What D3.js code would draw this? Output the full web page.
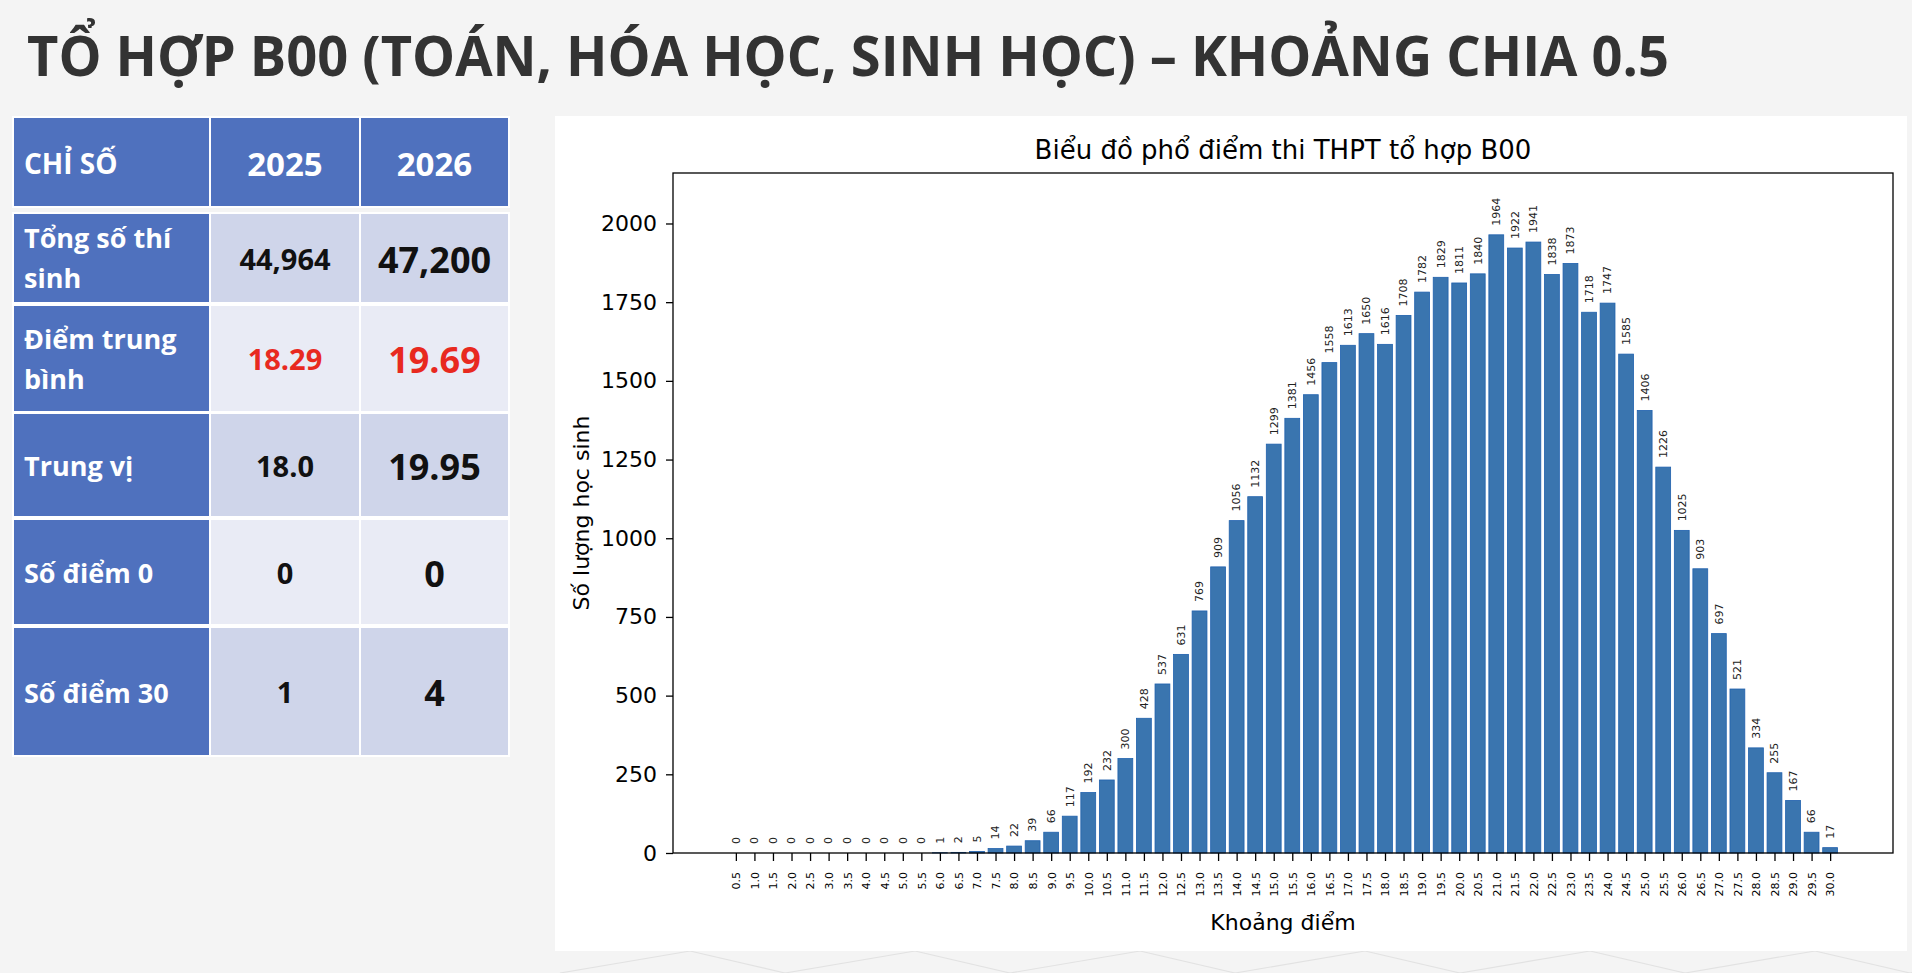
<!doctype html>
<html>

<head>
    <meta charset="utf-8">
    <title>Tổ hợp B00</title>
    <style>
        body { margin: 0; background: #f4f4f4; }
        svg { display: block; }
    </style>
</head>

<body>
    <script src="https://d3js.org/d3.v7.min.js"></script>
    <script>
        // Chart data
        var categories = ["0.5", "1.0", "1.5", "2.0", "2.5", "3.0", "3.5", "4.0", "4.5", "5.0",
            "5.5", "6.0", "6.5", "7.0", "7.5", "8.0", "8.5", "9.0", "9.5", "10.0",
            "10.5", "11.0", "11.5", "12.0", "12.5", "13.0", "13.5", "14.0", "14.5", "15.0",
            "15.5", "16.0", "16.5", "17.0", "17.5", "18.0", "18.5", "19.0", "19.5", "20.0",
            "20.5", "21.0", "21.5", "22.0", "22.5", "23.0", "23.5", "24.0", "24.5", "25.0",
            "25.5", "26.0", "26.5", "27.0", "27.5", "28.0", "28.5", "29.0", "29.5", "30.0"];
        var counts = [0, 0, 0, 0, 0, 0, 0, 0, 0, 0,
            0, 1, 2, 5, 14, 22, 39, 66, 117, 192,
            232, 300, 428, 537, 631, 769, 909, 1056, 1132, 1299,
            1381, 1456, 1558, 1613, 1650, 1616, 1708, 1782, 1829, 1811,
            1840, 1964, 1922, 1941, 1838, 1873, 1718, 1747, 1585, 1406,
            1226, 1025, 903, 697, 521, 334, 255, 167, 66, 17];
        var yTicks = [0, 250, 500, 750, 1000, 1250, 1500, 1750, 2000];

        // Table data
        var headerCells = ["CHỈ SỐ", "2025", "2026"];
        var rowLabels = [["Tổng số thí", "sinh"], ["Điểm trung", "bình"], ["Trung vị"], ["Số điểm 0"], ["Số điểm 30"]];
        var values2025 = ["44,964", "18.29", "18.0", "0", "1"];
        var values2026 = ["47,200", "19.69", "19.95", "0", "4"];
        var highlightRow = 1;

        var w = 1912;
        var h = 973;

        var svg = d3.select("body")
            .append("svg")
            .attr("width", w)
            .attr("height", h);

        svg.append("rect")
            .attr("width", w)
            .attr("height", h)
            .attr("fill", "#f4f4f4");

        // faint background lines at the bottom
        var deco = svg.append("g").attr("stroke", "#e2e2e2").attr("stroke-width", 1.2);
        d3.range(0, 7).forEach(function (k) {
            var x0 = 560 + k * 225;
            deco.append("line").attr("x1", x0).attr("y1", 973).attr("x2", x0 + 130).attr("y2", 951);
            deco.append("line").attr("x1", x0 + 130).attr("y1", 951).attr("x2", x0 + 225).attr("y2", 973);
        });

        // Slide title
        svg.append("text")
            .attr("x", 27)
            .attr("y", 76)
            .attr("textLength", 1642)
            .attr("lengthAdjust", "spacingAndGlyphs")
            .style("font-family", "'Open Sans', sans-serif")
            .style("font-weight", 700)
            .style("font-size", "56px")
            .style("fill", "#333333")
            .text("TỔ HỢP B00 (TOÁN, HÓA HỌC, SINH HỌC) – KHOẢNG CHIA 0.5");

        // ---------- Table ----------
        var colX = [13, 210, 360, 509];
        var rowTop = [117, 213, 305, 413, 519, 627];
        var rowBot = [207, 303, 412, 517, 625, 756];
        var table = svg.append("g").style("font-family", "'Open Sans', sans-serif").style("font-weight", 700);

        // header
        headerCells.forEach(function (t, c) {
            table.append("rect")
                .attr("x", colX[c]).attr("y", rowTop[0])
                .attr("width", colX[c + 1] - colX[c]).attr("height", rowBot[0] - rowTop[0])
                .attr("fill", "#4f71be").attr("stroke", "#ffffff").attr("stroke-width", 2);
            table.append("text")
                .attr("x", c == 0 ? colX[0] + 11 : (colX[c] + colX[c + 1]) / 2)
                .attr("y", c == 0 ? 174 : 176)
                .attr("text-anchor", c == 0 ? "start" : "middle")
                .style("font-size", c == 0 ? "28px" : "33px")
                .style("fill", "#ffffff")
                .text(t);
        });

        rowLabels.forEach(function (lines, i) {
            var rt = rowTop[i + 1], rb = rowBot[i + 1];
            var mid = (rt + rb) / 2;
            var light = i % 2 == 1;
            table.append("rect")
                .attr("x", colX[0]).attr("y", rt)
                .attr("width", colX[1] - colX[0]).attr("height", rb - rt)
                .attr("fill", "#4f71be").attr("stroke", "#ffffff").attr("stroke-width", 2);
            [1, 2].forEach(function (c) {
                table.append("rect")
                    .attr("x", colX[c]).attr("y", rt)
                    .attr("width", colX[c + 1] - colX[c]).attr("height", rb - rt)
                    .attr("fill", light ? "#e9ebf5" : "#cfd5ea").attr("stroke", "#ffffff").attr("stroke-width", 2);
            });
            lines.forEach(function (ln, j) {
                var ly = lines.length == 1 ? mid + 11 : mid - 10 + j * 40;
                table.append("text")
                    .attr("x", colX[0] + 11)
                    .attr("y", ly)
                    .style("font-size", "27px")
                    .style("fill", "#ffffff")
                    .text(ln);
            });
            var col = i == highlightRow ? "#e8291f" : "#111111";
            table.append("text")
                .attr("x", (colX[1] + colX[2]) / 2)
                .attr("y", mid + 11.5)
                .attr("text-anchor", "middle")
                .style("font-size", "29px")
                .style("fill", col)
                .text(values2025[i]);
            table.append("text")
                .attr("x", (colX[2] + colX[3]) / 2)
                .attr("y", mid + 14.5)
                .attr("text-anchor", "middle")
                .style("font-size", "36px")
                .style("fill", col)
                .text(values2026[i]);
        });

        // ---------- Chart ----------
        svg.append("rect")
            .attr("x", 555).attr("y", 116)
            .attr("width", 1352).attr("height", 835)
            .attr("fill", "#ffffff");

        var plotLeft = 673, plotRight = 1893, plotTop = 173, plotBottom = 853;
        var n = counts.length;
        var barW = 0.8;
        var pad = 0.05 * (n - 1 + barW);

        var x = d3.scaleLinear()
            .domain([-barW / 2 - pad, n - 1 + barW / 2 + pad])
            .range([plotLeft, plotRight]);
        var y = d3.scaleLinear()
            .domain([0, d3.max(counts) * 1.1])
            .range([plotBottom, plotTop]);

        var chart = svg.append("g").style("font-family", "'DejaVu Sans', sans-serif");

        chart.selectAll("rect.bar")
            .data(counts)
            .enter()
            .append("rect")
            .attr("class", "bar")
            .attr("x", function (d, i) { return x(i - barW / 2); })
            .attr("width", x(barW) - x(0))
            .attr("y", function (d) { return y(d); })
            .attr("height", function (d) { return y(0) - y(d); })
            .style("fill", "#3a75af")
            .style("stroke", "#1f60ad")
            .style("stroke-width", 0.8);

        // bar value labels
        chart.selectAll("text.val")
            .data(counts)
            .enter()
            .append("text")
            .attr("class", "val")
            .attr("transform", function (d, i) { return "translate(" + x(i) + "," + (y(d) - 9) + ") rotate(-90)"; })
            .attr("dy", "0.35em")
            .style("font-size", "11px")
            .style("fill", "#222222")
            .text(function (d) { return d; });

        // axes
        var xAxis = chart.append("g")
            .attr("transform", "translate(0," + plotBottom + ")")
            .call(d3.axisBottom(x)
                .tickValues(d3.range(n))
                .tickFormat(function (i) { return categories[i]; })
                .tickSize(8)
                .tickSizeOuter(0));
        xAxis.select(".domain").remove();
        xAxis.selectAll("line").attr("stroke", "#000").attr("stroke-width", 1.3);
        xAxis.selectAll("text")
            .attr("transform", "rotate(-90)")
            .attr("text-anchor", "end")
            .attr("x", -19)
            .attr("y", 0)
            .attr("dy", "0.35em")
            .style("font-size", "11px")
            .style("font-family", "'DejaVu Sans', sans-serif")
            .style("fill", "#000");

        var yAxis = chart.append("g")
            .attr("transform", "translate(" + plotLeft + ",0)")
            .call(d3.axisLeft(y)
                .tickValues(yTicks)
                .tickFormat(d3.format("d"))
                .tickSize(7)
                .tickPadding(9)
                .tickSizeOuter(0));
        yAxis.select(".domain").remove();
        yAxis.selectAll("line").attr("stroke", "#000").attr("stroke-width", 1.3);
        yAxis.selectAll("text")
            .style("font-size", "22px")
            .style("font-family", "'DejaVu Sans', sans-serif")
            .style("fill", "#000");

        // frame
        chart.append("rect")
            .attr("x", plotLeft).attr("y", plotTop)
            .attr("width", plotRight - plotLeft).attr("height", plotBottom - plotTop)
            .attr("fill", "none")
            .attr("stroke", "#000")
            .attr("stroke-width", 1.3);

        // titles
        chart.append("text")
            .attr("x", (plotLeft + plotRight) / 2)
            .attr("y", 159)
            .attr("text-anchor", "middle")
            .style("font-size", "26px")
            .text("Biểu đồ phổ điểm thi THPT tổ hợp B00");

        chart.append("text")
            .attr("x", (plotLeft + plotRight) / 2)
            .attr("y", 930)
            .attr("text-anchor", "middle")
            .style("font-size", "22px")
            .text("Khoảng điểm");

        chart.append("text")
            .attr("transform", "translate(589," + (plotTop + plotBottom) / 2 + ") rotate(-90)")
            .attr("text-anchor", "middle")
            .style("font-size", "22px")
            .text("Số lượng học sinh");
    </script>
</body>

</html>
